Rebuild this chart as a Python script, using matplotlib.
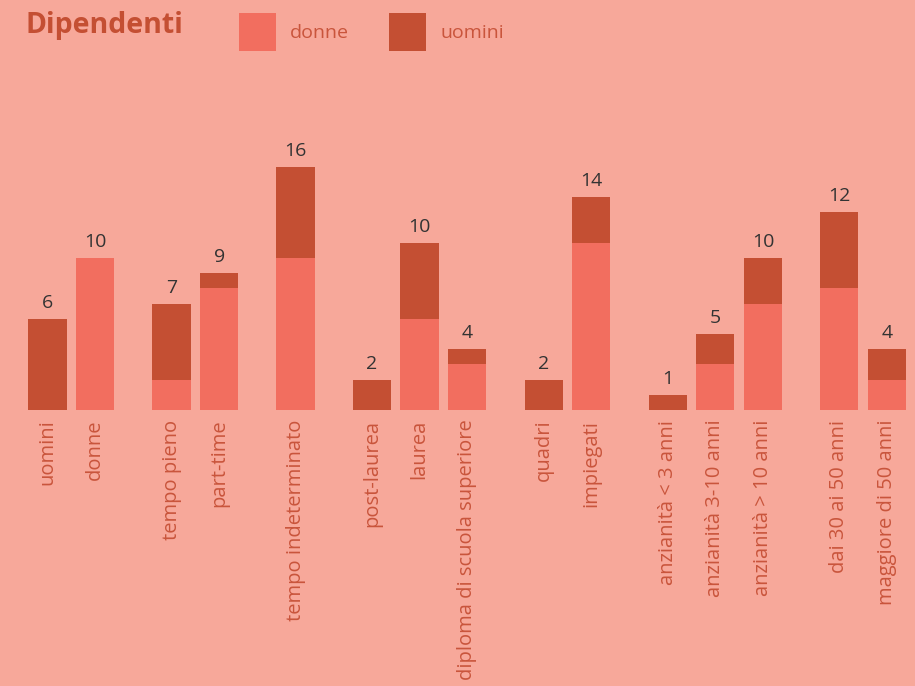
import matplotlib
matplotlib.use("Agg")
import matplotlib.pyplot as plt
from matplotlib.patches import Rectangle
import numpy as np

categories = ["uomini", "donne", "tempo pieno", "part-time", "tempo indeterminato",
              "post-laurea", "laurea", "diploma di scuola superiore", "quadri", "impiegati",
              "anzianità < 3 anni", "anzianità 3-10 anni", "anzianità > 10 anni",
              "dai 30 ai 50 anni", "maggiore di 50 anni"]
groups = [0, 0, 1, 1, 2, 3, 3, 3, 4, 4, 5, 5, 5, 6, 6]
donne = [0, 10, 2, 8, 10, 0, 6, 3, 0, 11, 0, 3, 7, 8, 2]
uomini = [6, 0, 5, 1, 6, 2, 5, 1, 2, 3, 1, 2, 3, 5, 2]
totali = [6, 10, 7, 9, 16, 2, 10, 4, 2, 14, 1, 5, 10, 12, 4]
series_names = ["donne", "uomini"]

BG = "#F7A89A"
C_DONNE = "#F26E5F"
C_UOMINI = "#C44F33"
C_TEXT = "#C9553C"
C_VAL = "#333333"

plt.rcParams['font.family'] = ['Open Sans', 'DejaVu Sans']

W, H = 915, 686
fig = plt.figure(figsize=(W / 100, H / 100), dpi=100, facecolor=BG)

base_px = 410
top_px = 80
unit_px = 15.2
ax = fig.add_axes([0, (H - base_px) / H, 1, (base_px - top_px) / H])
ax.set_facecolor(BG)

gap = 0.6
x = np.arange(len(categories)) + np.array(groups) * gap
ax.bar(x, donne, width=0.8, color=C_DONNE, label=series_names[0])
ax.bar(x, uomini, width=0.8, bottom=donne, color=C_UOMINI, label=series_names[1])

tops = np.array(donne) + np.array(uomini)
for xi, t, lab in zip(x, tops, totali):
    ax.annotate(str(lab), (xi, t), xytext=(0, 5), textcoords="offset points",
                ha="center", va="bottom", fontsize=14, color=C_VAL)

a_px, u_px = 47.5, 47.7
ax.set_xlim(-a_px / u_px, (W - a_px) / u_px)
ax.set_ylim(0, (base_px - top_px) / unit_px)
ax.set_xticks(x)
ax.set_xticklabels(categories, rotation=90, fontsize=14.5, color=C_TEXT, va="top")
ax.tick_params(axis="x", length=0, pad=7)
ax.set_yticks([])
for s in ax.spines.values():
    s.set_visible(False)

fig.text(25 / W, 1 - 26 / H, "Dipendenti", fontsize=20.5, fontweight="bold",
         color=C_UOMINI, va="center", ha="left")

# legend drawn as figure artists
leg_x = [239, 389]
for lx, name, col in zip(leg_x, series_names, [C_DONNE, C_UOMINI]):
    fig.patches.append(Rectangle((lx / W, 1 - 51 / H), 37 / W, 38 / H,
                                 transform=fig.transFigure, facecolor=col,
                                 edgecolor="none"))
    fig.text((lx + 51) / W, 1 - 33 / H, name, fontsize=14, color=C_TEXT,
             va="center", ha="left")

fig.savefig("out.png", dpi=100, facecolor=BG)
